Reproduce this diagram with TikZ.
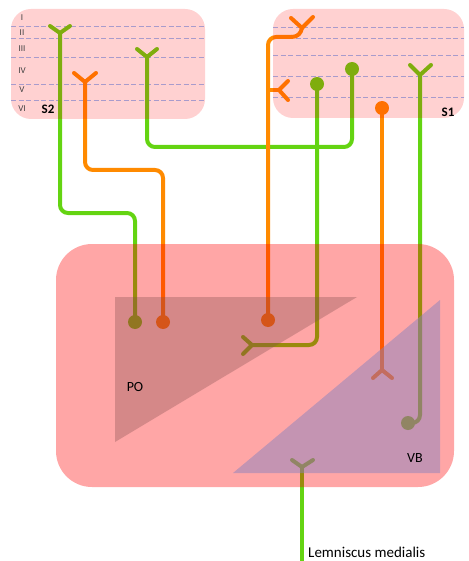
\documentclass[tikz,border=0pt]{standalone}
\usepackage{fontspec}
\setmainfont{Carlito}
\begin{document}
\begin{tikzpicture}[x=1pt,y=-1pt,
  axon/.style={line width=4pt,rounded corners=8pt},
  arms/.style={line width=4pt,line cap=round,line join=round},
  gfib/.style={draw=fibgreen},
  ofib/.style={draw=fiborange},
  layerline/.style={draw=layerblue,line width=0.8pt,dash pattern=on 5pt off 2.5pt},
  layerlbl/.style={font=\fontsize{9}{10}\selectfont,text=black!75},
  arealbl/.style={font=\fontsize{13}{14}\selectfont\bfseries},
  nucllbl/.style={font=\fontsize{14}{15}\selectfont}]
\definecolor{fibgreen}{RGB}{100,212,18}
\definecolor{fiborange}{RGB}{255,138,0}
\definecolor{layerblue}{RGB}{150,190,250}
\definecolor{cortexred}{RGB}{255,0,0}
\definecolor{pocolor}{RGB}{128,78,78}
\definecolor{vbcolor}{RGB}{137,130,190}
\useasboundingbox (0,0) rectangle (468,561);

% cortical layer boundaries
\foreach \y in {26.7,38.7,57.3,84.3,100} \draw[layerline] (11,\y) -- (205,\y);
\foreach \y in {27.5,38.5,55,76.5,97.7} \draw[layerline] (273,\y) -- (464,\y);

% ---- fibres from S2 ----
\coordinate (gAd) at (60,33);   \coordinate (gAb) at (135,322);
\draw[gfib,axon] (gAd) -- (60,213) -- (135,213) -- (gAb);
\draw[gfib,arms] (50,26) -- (gAd) -- (70,26);
\fill[fibgreen] (gAb) circle (7);

\coordinate (oAd) at (85,82);   \coordinate (oAb) at (163,322);
\draw[ofib,axon] (oAd) -- (85,170) -- (163,170) -- (oAb);
\draw[ofib,arms] (74,73) -- (oAd) -- (96,73);
\fill[fiborange] (oAb) circle (7);

\coordinate (gBd) at (147,57);  \coordinate (gBb) at (352,69);
\draw[gfib,axon] (gBd) -- (147,147) -- (352,147) -- (gBb);
\draw[gfib,arms] (137,49) -- (gBd) -- (157,49);
\fill[fibgreen] (gBb) circle (7);

% ---- fibres from S1 ----
\coordinate (oCd) at (302,28);  \coordinate (oCb) at (268,320);
\draw[ofib,axon] (oCb) -- (268,37) -- (292,37);
\draw[ofib,line width=4pt] (291.5,37) .. controls (298,37) and (301,33) .. (oCd);
\draw[ofib,arms] (291,18) -- (oCd) -- (313,17);
\coordinate (oCs) at (279,90);
\draw[ofib,line width=4pt] (268,90) -- (oCs);
\draw[ofib,arms] (288,81) -- (oCs) -- (288,100);
\fill[fiborange] (oCb) circle (7);

\coordinate (gCb) at (317,84);  \coordinate (gCd) at (252,345);
\draw[gfib,axon] (gCb) -- (317,345) -- (gCd);
\draw[gfib,arms] (243,337) -- (gCd) -- (243,354);
\fill[fibgreen] (gCb) circle (7);

\coordinate (oDb) at (382,108); \coordinate (oDd) at (382,370);
\draw[ofib,line width=4pt] (oDb) -- (oDd);
\draw[ofib,arms] (373,378) -- (oDd) -- (392,378);
\fill[fiborange] (oDb) circle (7);

\coordinate (gDd) at (420,75);  \coordinate (gDb) at (408,423);
\draw[gfib,axon] (gDd) -- (420,423) -- (gDb);
\draw[gfib,arms] (410,65) -- (gDd) -- (431,65);
\fill[fibgreen] (gDb) circle (7);

% lemniscus medialis
\coordinate (lmd) at (302,467); \coordinate (lmend) at (302,561);
\draw[gfib,line width=4pt] (lmend) -- (lmd);
\draw[gfib,arms] (292,460) -- (lmd) -- (313,460);
\node[nucllbl,font=\fontsize{15}{16}\selectfont,anchor=base west,inner sep=0pt] (lmlbl) at (308,557) {Lemniscus medialis};

% ---- cortical areas ----
\fill[cortexred,fill opacity=0.18,rounded corners=20pt] (11,9) rectangle (205,119);
\fill[cortexred,fill opacity=0.18,rounded corners=20pt] (273,9) rectangle (464,118);
\foreach \y/\t in {18/I,33/II,49/III,71/IV,90/V,109/VI}
  \node[layerlbl] at (22,\y) {\t};
\node[arealbl] (s2) at (48,109) {S2};
\node[arealbl] (s1) at (448,112) {S1};

% ---- thalamus ----
\fill[cortexred,fill opacity=0.35,rounded corners=36pt] (56,244) rectangle (454,487);
\fill[pocolor,fill opacity=0.33] (115,297) -- (357,297) -- (115,442) -- cycle;
\fill[vbcolor,fill opacity=0.5] (440,300) -- (440,473) -- (233,473) -- cycle;
\node[nucllbl] (po) at (135,387) {PO};
\node[nucllbl] (vb) at (415,458) {VB};
\end{tikzpicture}
\end{document}
